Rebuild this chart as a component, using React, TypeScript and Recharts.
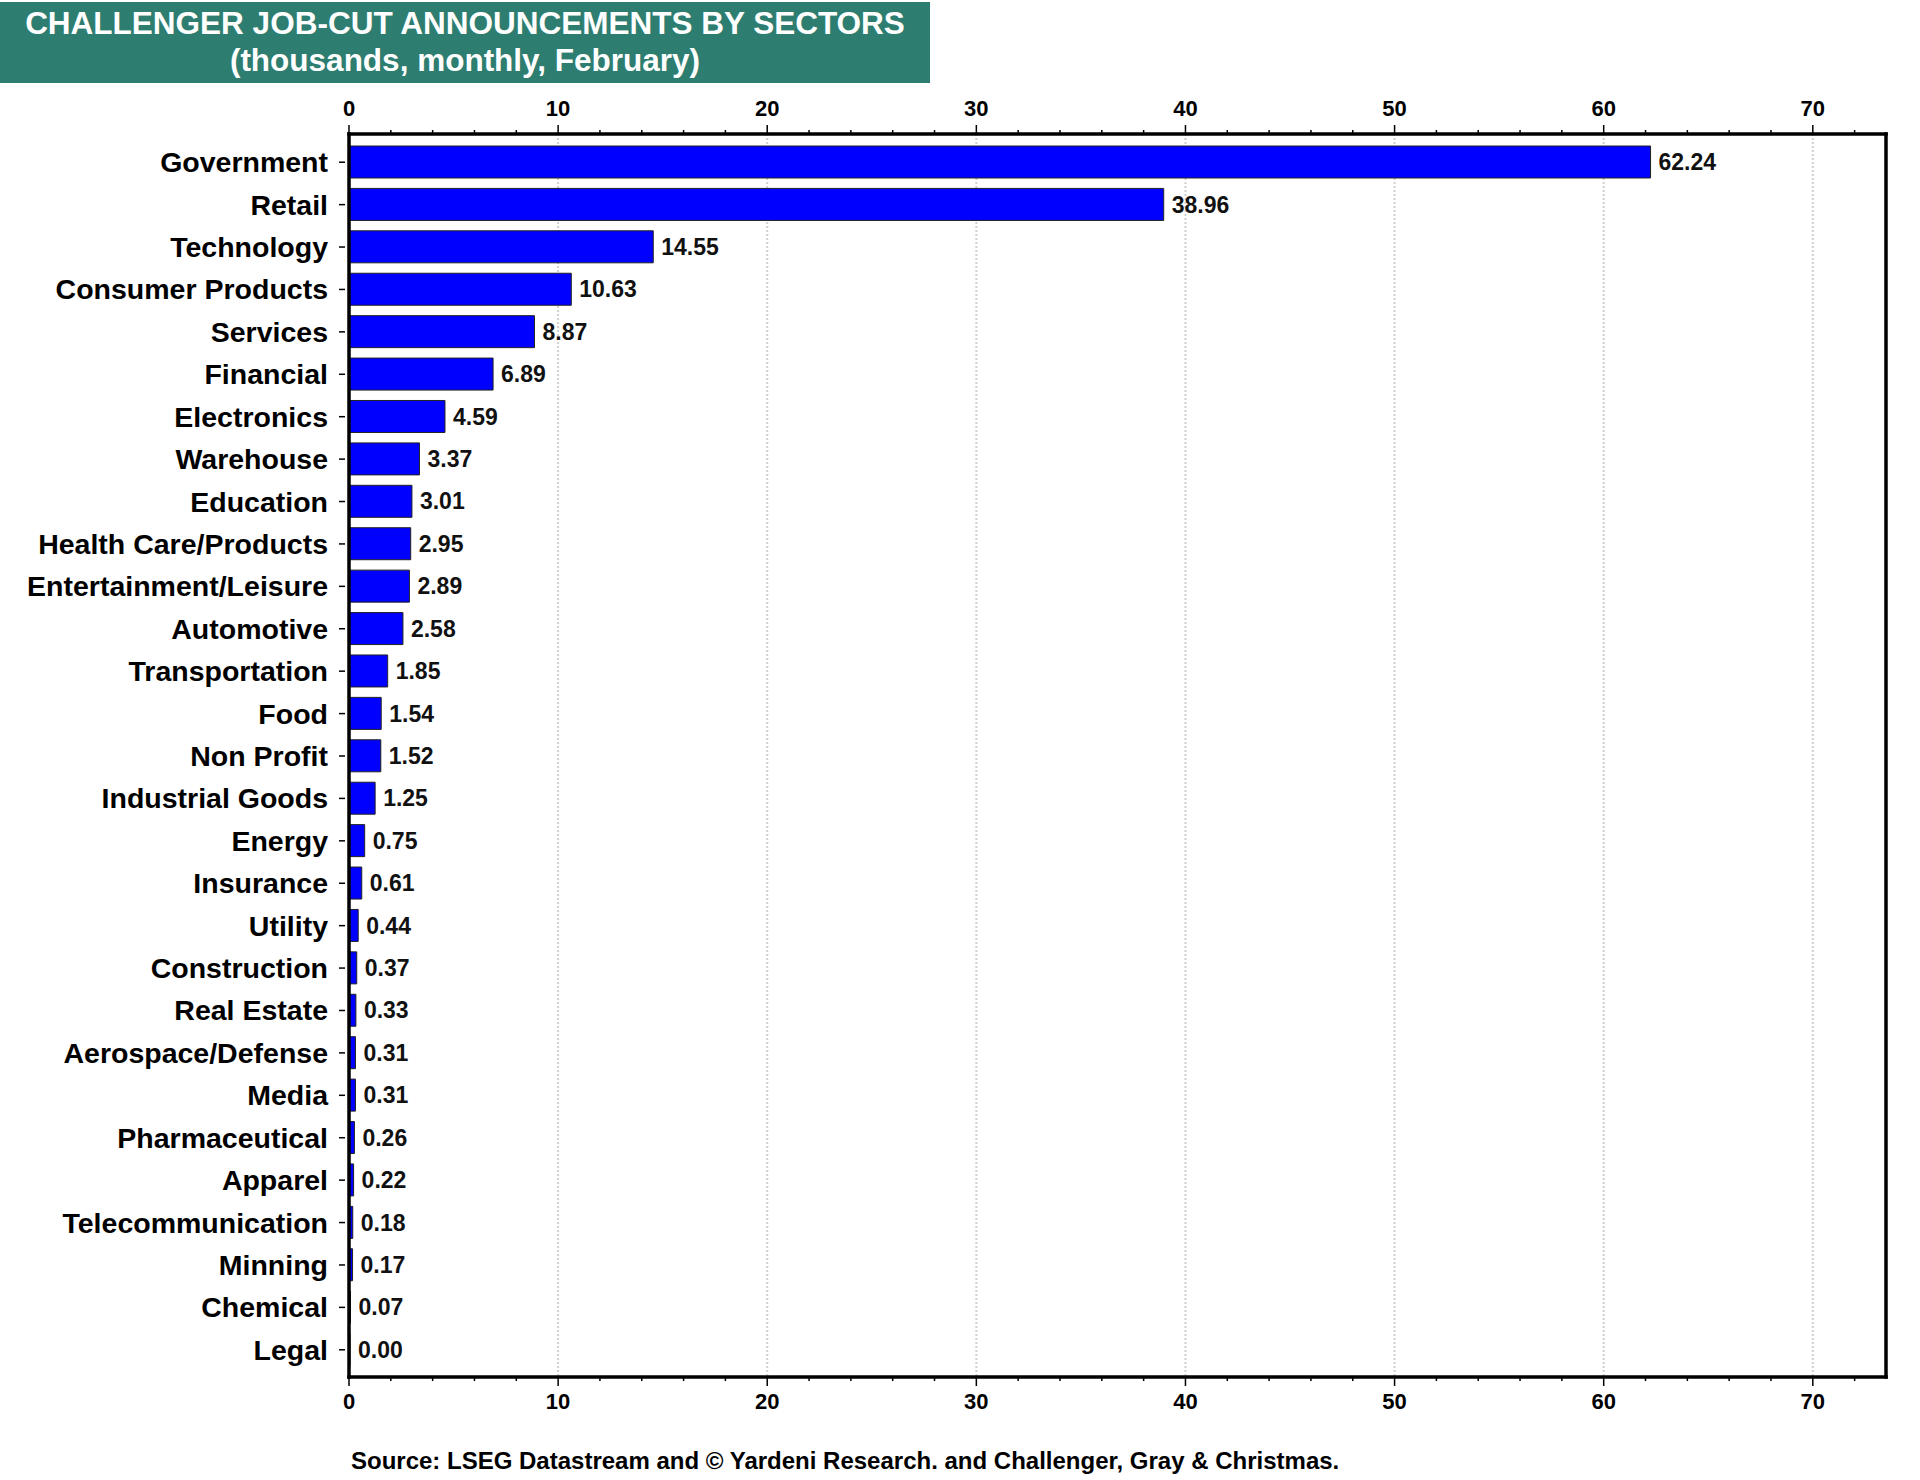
import { BarChart, Bar, XAxis, YAxis, CartesianGrid, LabelList } from "recharts"

const sectors = [
    "Government", "Retail", "Technology", "Consumer Products", "Services", "Financial",
    "Electronics", "Warehouse", "Education", "Health Care/Products", "Entertainment/Leisure",
    "Automotive", "Transportation", "Food", "Non Profit", "Industrial Goods", "Energy",
    "Insurance", "Utility", "Construction", "Real Estate", "Aerospace/Defense", "Media",
    "Pharmaceutical", "Apparel", "Telecommunication", "Minning", "Chemical", "Legal",
]
const jobCuts = [
    62.24, 38.96, 14.55, 10.63, 8.87, 6.89, 4.59, 3.37, 3.01, 2.95, 2.89, 2.58, 1.85, 1.54,
    1.52, 1.25, 0.75, 0.61, 0.44, 0.37, 0.33, 0.31, 0.31, 0.26, 0.22, 0.18, 0.17, 0.07, 0.0,
]
const axisTicks = [
    0, 2, 4, 6, 8, 10, 12, 14, 16, 18, 20, 22, 24, 26, 28, 30, 32, 34, 36, 38, 40,
    42, 44, 46, 48, 50, 52, 54, 56, 58, 60, 62, 64, 66, 68, 70, 72,
]
const gridValues = [10, 20, 30, 40, 50, 60, 70]

const data = sectors.map((name, i) => ({ name, value: jobCuts[i] }))

const FONT = "'Liberation Sans', Arial, Helvetica, sans-serif"

const XTick = (props: any) => {
    const { x, y, payload, orientation } = props
    const major = payload.value % 10 === 0
    const dir = orientation === "top" ? -1 : 1
    const len = major ? 9 : 4
    return (
        <g>
            <line x1={x} x2={x} y1={y} y2={y + dir * len} stroke="#000" strokeWidth={1.5} />
            {major && (
                <text
                    x={x}
                    y={orientation === "top" ? y - 26 : y + 24}
                    textAnchor="middle"
                    dominantBaseline="central"
                    fontFamily={FONT}
                    fontWeight="bold"
                    fontSize={22}
                    fill="#000"
                >
                    {payload.value}
                </text>
            )}
        </g>
    )
}

const YTick = (props: any) => {
    const { x, y, payload } = props
    return (
        <g>
            <line x1={x - 10} x2={x - 4} y1={y} y2={y} stroke="#000" strokeWidth={1.5} />
            <text
                x={x - 21}
                y={y}
                textAnchor="end"
                dominantBaseline="central"
                fontFamily={FONT}
                fontWeight="bold"
                fontSize={28.5}
                fill="#000"
            >
                {payload.value}
            </text>
        </g>
    )
}

const borderLine = { stroke: "#000", strokeWidth: 3.5, strokeLinecap: "square" as const }

const App = () => {
    return (
        <div style={{ position: "absolute", left: 0, top: 0, width: 1920, height: 1480, background: "#fff" }}>
            <div
                style={{
                    position: "absolute", left: 0, top: 2, width: 930, height: 81,
                    background: "#2e7d71", color: "#fff", fontFamily: FONT, fontWeight: "bold",
                    fontSize: 31.5, lineHeight: "37px", textAlign: "center", paddingTop: 3, boxSizing: "border-box",
                }}
            >
                <div>CHALLENGER JOB-CUT ANNOUNCEMENTS BY SECTORS</div>
                <div>(thousands, monthly, February)</div>
            </div>
            <BarChart
                width={1920}
                height={1480}
                data={data}
                layout="vertical"
                margin={{ top: 84, right: 32, bottom: 53, left: 0 }}
            >
                <CartesianGrid
                    xAxisId="bottom"
                    yAxisId="left"
                    horizontal={false}
                    verticalValues={gridValues}
                    stroke="#cfcfcf"
                    strokeWidth={2}
                    strokeDasharray="2 2"
                />
                <XAxis
                    xAxisId="top"
                    orientation="top"
                    type="number"
                    domain={[0, 73.5]}
                    ticks={axisTicks}
                    interval={0}
                    allowDataOverflow
                    height={50}
                    tickSize={0}
                    tickMargin={0}
                    tick={<XTick orientation="top" />}
                    axisLine={borderLine}
                />
                <XAxis
                    xAxisId="bottom"
                    orientation="bottom"
                    type="number"
                    domain={[0, 73.5]}
                    ticks={axisTicks}
                    interval={0}
                    allowDataOverflow
                    height={50}
                    tickSize={0}
                    tickMargin={0}
                    tick={<XTick orientation="bottom" />}
                    axisLine={borderLine}
                />
                <YAxis
                    yAxisId="left"
                    type="category"
                    dataKey="name"
                    width={349}
                    interval={0}
                    padding={{ top: 7, bottom: 6 }}
                    tickSize={0}
                    tickMargin={0}
                    tick={<YTick />}
                    axisLine={borderLine}
                />
                <YAxis
                    yAxisId="right"
                    orientation="right"
                    type="category"
                    dataKey="name"
                    width={2}
                    tick={false}
                    tickLine={false}
                    axisLine={borderLine}
                />
                <Bar
                    dataKey="value"
                    xAxisId="bottom"
                    yAxisId="left"
                    fill="#0000ff"
                    stroke="#222"
                    strokeWidth={1}
                    barSize={32}
                    minPointSize={1}
                    isAnimationActive={false}
                >
                    <LabelList
                        dataKey="value"
                        position="right"
                        offset={8}
                        formatter={(v: any) => Number(v).toFixed(2)}
                        fill="#111"
                        fontFamily={FONT}
                        fontWeight="bold"
                        fontSize={23}
                    />
                </Bar>
            </BarChart>
            <div
                style={{
                    position: "absolute", left: 351, top: 1447, fontFamily: FONT, fontWeight: "bold",
                    fontSize: 24, color: "#000", whiteSpace: "nowrap",
                }}
            >
                Source: LSEG Datastream and © Yardeni Research. and Challenger, Gray &amp; Christmas.
            </div>
        </div>
    )
}

export default App
